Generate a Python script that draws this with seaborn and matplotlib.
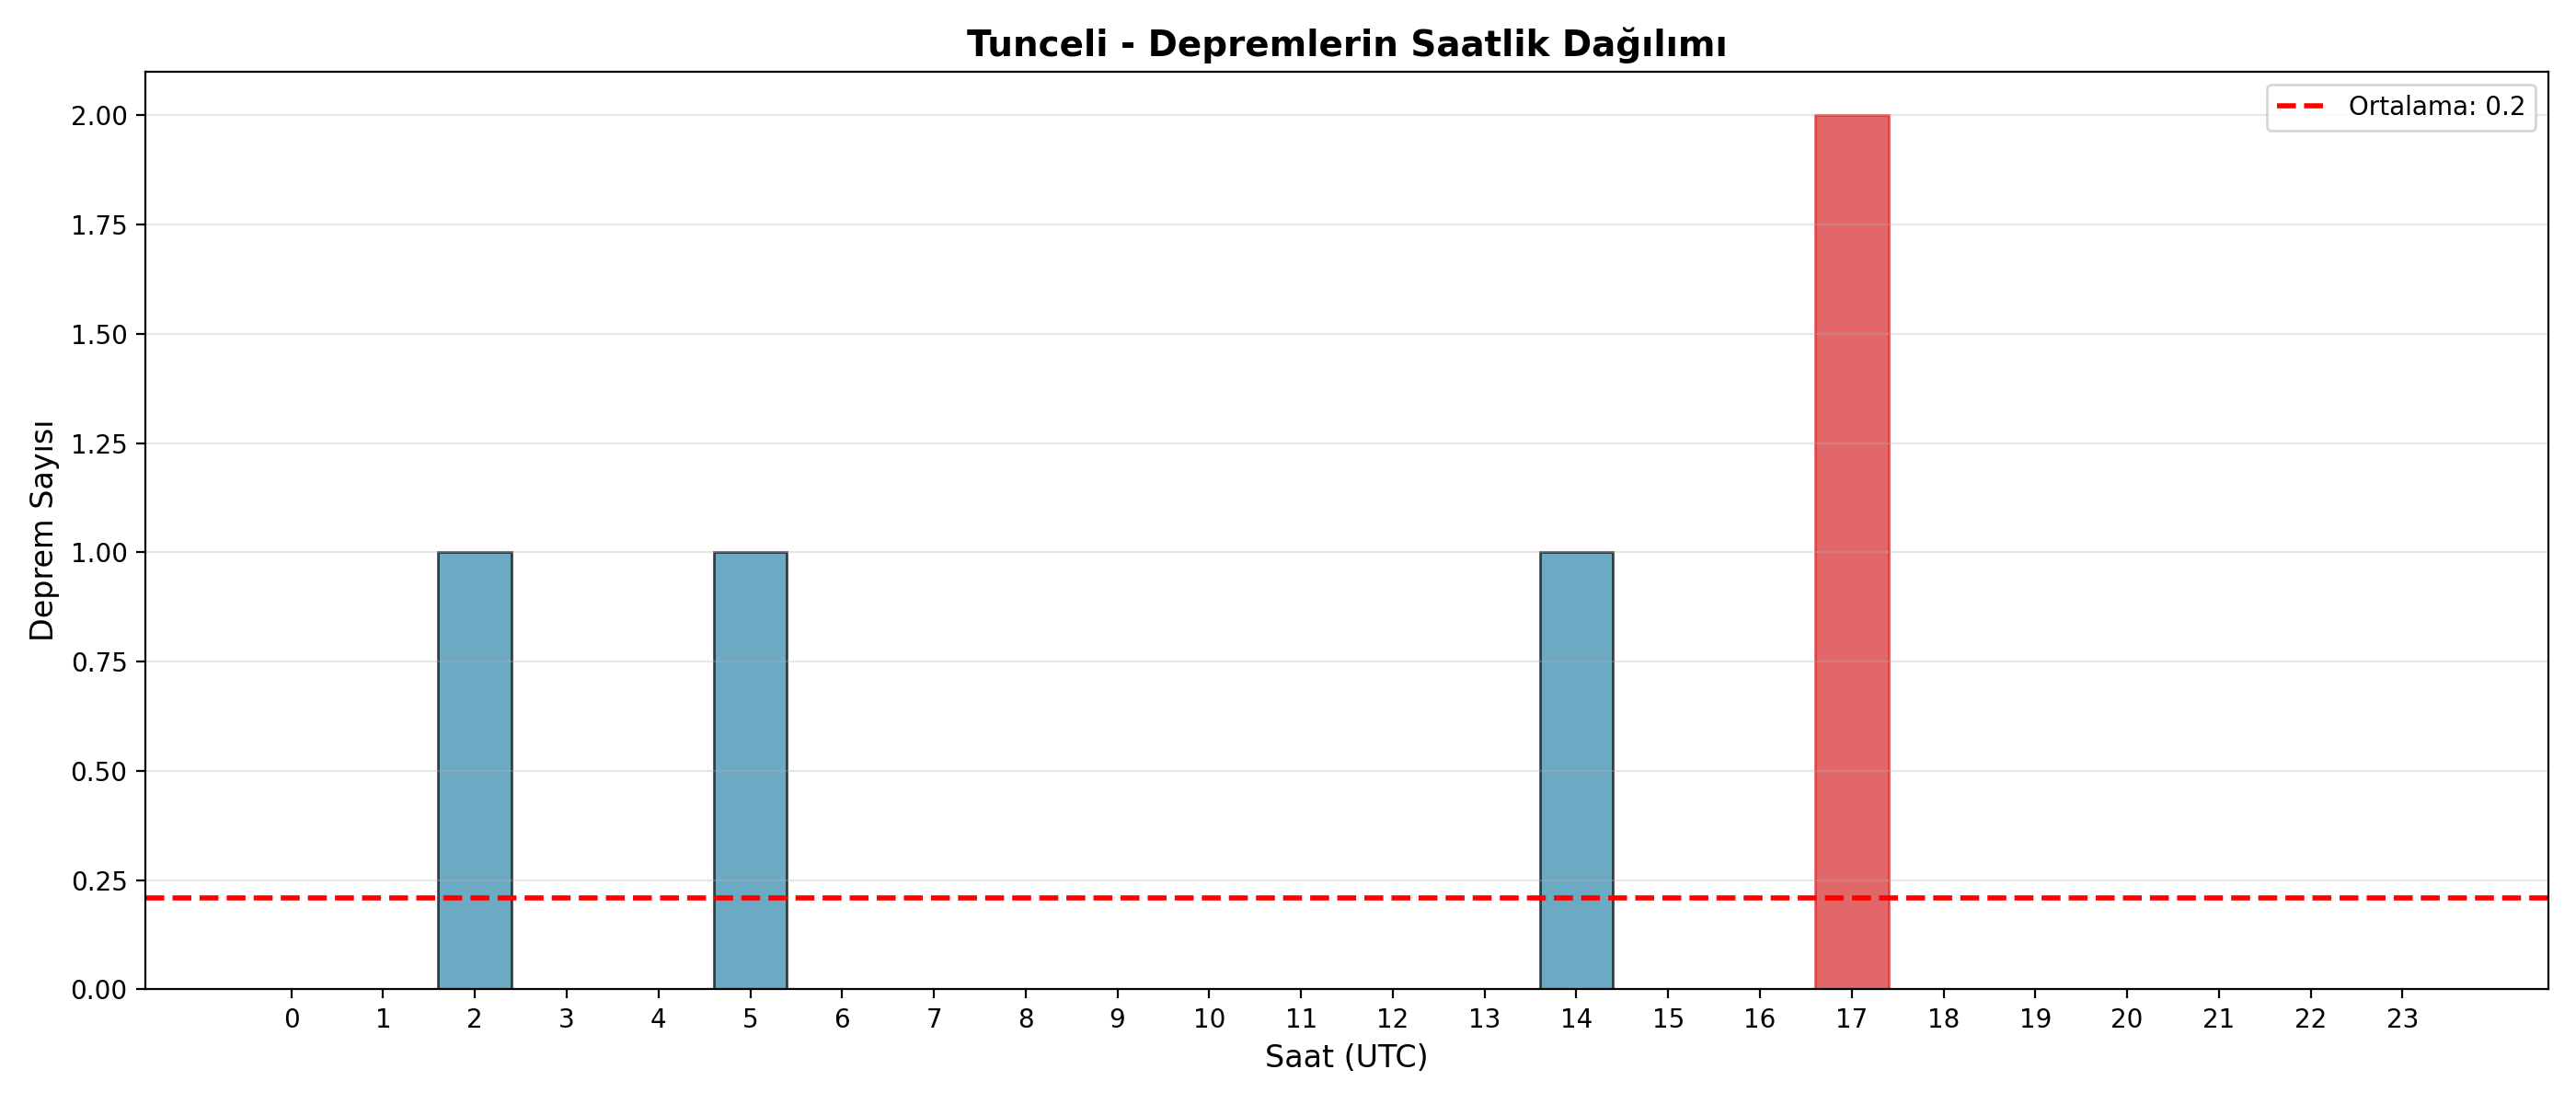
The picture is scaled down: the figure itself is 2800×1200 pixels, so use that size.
import numpy as np
import pandas as pd
import matplotlib
matplotlib.use("Agg")
import matplotlib.pyplot as plt
import seaborn as sns

# hourly earthquake counts for Tunceli (UTC hours)
hours = list(range(24))
counts = [0, 0, 1, 0, 0, 1, 0, 0, 0, 0, 0, 0,
          0, 0, 1, 0, 0, 2, 0, 0, 0, 0, 0, 0]

df = pd.DataFrame({"hour": hours, "count": counts})
mean_count = np.mean(counts)

fig, ax = plt.subplots(figsize=(14, 6))

sns.barplot(data=df, x="hour", y="count", native_scale=True, width=0.8,
            color="#2E86AB", edgecolor="black", linewidth=1, alpha=0.7,
            saturation=1, ax=ax)

# highlight the busiest hour
peak_idx = int(np.argmax(counts))
peak_bar = ax.patches[peak_idx]
peak_bar.set_color("tab:red")
peak_bar.set_alpha(0.7)

ax.axhline(mean_count, color="red", linestyle="--", linewidth=2,
           label=f"Ortalama: {mean_count:.1f}")

ax.set_title("Tunceli - Depremlerin Saatlik Dağılımı", fontsize=14, fontweight="bold")
ax.set_xlabel("Saat (UTC)", fontsize=12)
ax.set_ylabel("Deprem Sayısı", fontsize=12)
ax.set_xticks(hours)
ax.margins(x=0.05)
ax.grid(axis="y", alpha=0.3)
ax.legend()

plt.tight_layout()
plt.savefig("out.png", dpi=200)
